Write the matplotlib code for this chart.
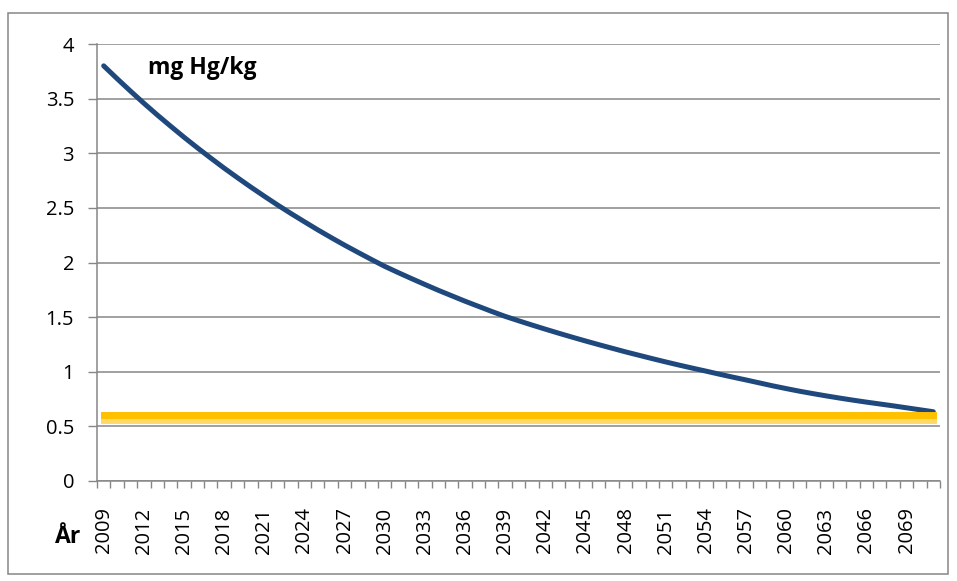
import matplotlib.pyplot as plt
import matplotlib.patheffects as pe
from matplotlib.patches import Rectangle

plt.rcParams['font.family'] = ['Open Sans', 'DejaVu Sans']

# mercury content, mg Hg/kg, yearly 2009-2071
years = list(range(2009, 2072))
hg = [3.800, 3.683, 3.569, 3.458, 3.351, 3.248, 3.147, 3.050, 2.956, 2.864,
      2.776, 2.690, 2.607, 2.526, 2.448, 2.373, 2.299, 2.228, 2.159, 2.093,
      2.028, 1.965, 1.908, 1.853, 1.799, 1.746, 1.696, 1.646, 1.599, 1.552,
      1.507, 1.467, 1.428, 1.390, 1.353, 1.317, 1.282, 1.248, 1.215, 1.182,
      1.151, 1.120, 1.090, 1.061, 1.033, 1.006, 0.978, 0.951, 0.925, 0.898,
      0.871, 0.846, 0.822, 0.800, 0.779, 0.759, 0.740, 0.722, 0.705, 0.688,
      0.670, 0.652, 0.634]
limit = [0.6] * len(years)

label_years = years[::3]
yticks = [0, 0.5, 1, 1.5, 2, 2.5, 3, 3.5, 4]
ytick_labels = ['0', '0.5', '1', '1.5', '2', '2.5', '3', '3.5', '4']

grey = '#868686'

fig = plt.figure(figsize=(9.57, 5.81), dpi=100)
ax = fig.add_axes([97 / 957, 1 - 481 / 581, (940 - 97) / 957, (481 - 44) / 581])

ax.plot(years, hg, color='#1F497D', lw=3.6, solid_capstyle='round', zorder=3)
ax.plot(years, limit, color='#FFC000', lw=5, solid_capstyle='projecting', zorder=4,
        path_effects=[pe.SimpleLineShadow(offset=(0, -3), shadow_color='#FFD966', alpha=1),
                      pe.Normal()])

ax.set_xlim(years[0] - 0.5, years[-1] + 0.5)
ax.set_ylim(0, 4)

ax.set_yticks(yticks)
ax.set_yticklabels(ytick_labels, fontsize=14.5)
ax.tick_params(axis='y', direction='out', length=6.5, width=1, color=grey, pad=10)
ax.grid(axis='y', color=grey, lw=1.1)
ax.set_axisbelow(True)

ax.set_xticks(label_years)
ax.set_xticklabels([str(y) for y in label_years], rotation=90, fontsize=14.5)
ax.set_xticks([y - 0.5 for y in years] + [years[-1] + 0.5], minor=True)
ax.tick_params(axis='x', which='major', length=0, pad=19)
ax.tick_params(axis='x', which='minor', direction='out', length=5, width=1, color=grey)

for side in ['top', 'right']:
    ax.spines[side].set_visible(False)
for side in ['left', 'bottom']:
    ax.spines[side].set_color(grey)
    ax.spines[side].set_linewidth(1.1)

fig.text(148 / 957, 1 - 68 / 581, 'mg Hg/kg', fontsize=16.5, fontweight='bold',
         ha='left', va='center')
fig.text(68 / 957, 1 - 537 / 581, 'År', fontsize=16.5, fontweight='bold',
         ha='center', va='center')

# chart border
fig.patches.append(Rectangle((8 / 957, 1 - 574 / 581), (948 - 8) / 957, (574 - 13) / 581,
                             transform=fig.transFigure, fill=False, edgecolor=grey, lw=1.1))

fig.savefig('out.png', dpi=100)
